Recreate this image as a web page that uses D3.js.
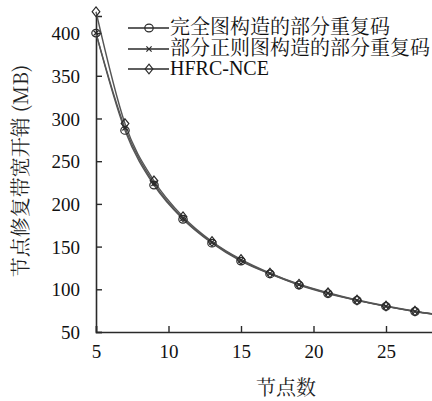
<!DOCTYPE html>
<html><head><meta charset="utf-8">
<script src="https://cdn.jsdelivr.net/npm/d3@7"></script>
</head><body style="margin:0">
<svg id="c" width="432" height="401" style="display:block;background:#fff"></svg>
<script>
const nodes = [5, 7, 9, 11, 13, 15, 17, 19, 21, 23, 25, 27, 29];
const fullGraph = [400, 286, 222, 182, 154, 133, 118, 105, 95, 87, 80, 74, 69];
const partialRegular = [400, 289, 224, 183, 155, 134, 118.5, 105.5, 95.5, 87, 80, 74, 69];
const hfrc = [425, 294, 227, 185, 156, 135, 119, 106, 96, 87.5, 80.5, 74.5, 69.5];
const seriesNames = ["完全图构造的部分重复码", "部分正则图构造的部分重复码", "HFRC-NCE"];
const yTicks = [50, 100, 150, 200, 250, 300, 350, 400];
const xTicks = [5, 10, 15, 20, 25];

const LATIN = "'Liberation Serif'";
const CJK = "'Noto Serif CJK SC'";
const svg = d3.select("#c");
const x = d3.scaleLinear().domain([5, 30]).range([96, 458.5]);
const y = d3.scaleLinear().domain([50, 420]).range([332, 16]);
const ink = "#2a2a2a", lineC = "#555";

const series = [
  {name: seriesNames[0], vals: fullGraph, m: "circle", f: CJK},
  {name: seriesNames[1], vals: partialRegular, m: "cross", f: CJK},
  {name: seriesNames[2], vals: hfrc, m: "diamond", f: LATIN}
];

function marker(g, type, cx, cy) {
  if (type === "circle") {
    g.append("ellipse").attr("cx", cx).attr("cy", cy).attr("rx", 4.2).attr("ry", 3.8)
      .attr("fill", "none").attr("stroke", ink).attr("stroke-width", 1.2);
  } else if (type === "cross") {
    const s = 2.6;
    g.append("path").attr("d", `M${cx-s},${cy-s}L${cx+s},${cy+s}M${cx-s},${cy+s}L${cx+s},${cy-s}`)
      .attr("stroke", ink).attr("stroke-width", 1.2).attr("fill", "none");
  } else {
    const s = 4.8;
    g.append("path").attr("d", `M${cx},${cy-s}L${cx+s*0.8},${cy}L${cx},${cy+s}L${cx-s*0.8},${cy}Z`)
      .attr("fill", "none").attr("stroke", ink).attr("stroke-width", 1.2);
  }
}

// axes
const xAxis = d3.axisBottom(x).tickValues(xTicks).tickSize(-6).tickPadding(13);
const yAxis = d3.axisLeft(y).tickValues(yTicks).tickSize(-6).tickPadding(16);
const gx = svg.append("g").attr("transform", "translate(0,332)").call(xAxis);
const gy = svg.append("g").attr("transform", "translate(96,0)").call(yAxis);
[gx, gy].forEach(g => {
  g.attr("font-family", LATIN).attr("font-size", 19);
  g.select(".domain").attr("stroke", ink).attr("stroke-width", 1.6);
  g.selectAll(".tick line").attr("stroke", ink).attr("stroke-width", 1.4);
  g.selectAll(".tick text").attr("fill", "#111").style("font-family", LATIN).style("font-size", "19px");
});
gx.selectAll(".tick text").attr("dy", "0.71em");
gy.selectAll(".tick text").attr("dy", "0.35em");

// lines
const line = d3.line().x((d, i) => x(nodes[i])).y(d => y(d)).curve(d3.curveMonotoneX);
series.forEach(s => {
  svg.append("path").datum(s.vals).attr("d", line)
    .attr("fill", "none").attr("stroke", lineC).attr("stroke-width", 1.4);
});
series.forEach(s => {
  const g = svg.append("g");
  s.vals.forEach((v, i) => marker(g, s.m, x(nodes[i]), y(v)));
});

// legend
const legY = [28, 49, 69];
series.forEach((s, i) => {
  const g = svg.append("g");
  g.append("line").attr("x1", 128).attr("x2", 169).attr("y1", legY[i]).attr("y2", legY[i])
    .attr("stroke", ink).attr("stroke-width", 1.4);
  marker(g, s.m, 149, legY[i]);
  g.append("text").attr("x", 170).attr("y", legY[i] - 1).attr("dy", "0.35em")
    .style("font-family", s.f).style("font-size", "20px").attr("fill", "#111").text(s.name);
});

// axis titles
svg.append("text").attr("x", 286).attr("y", 388).attr("text-anchor", "middle").attr("dy", "0.35em")
  .style("font-family", CJK).style("font-size", "20px").attr("fill", "#222").text("节点数");
svg.append("text").attr("transform", "translate(21,171) rotate(-90)").attr("text-anchor", "middle").attr("dy", "0.35em")
  .style("font-family", CJK).style("font-size", "20px").attr("fill", "#222").text("节点修复带宽开销 (MB)");
</script>
</body></html>
